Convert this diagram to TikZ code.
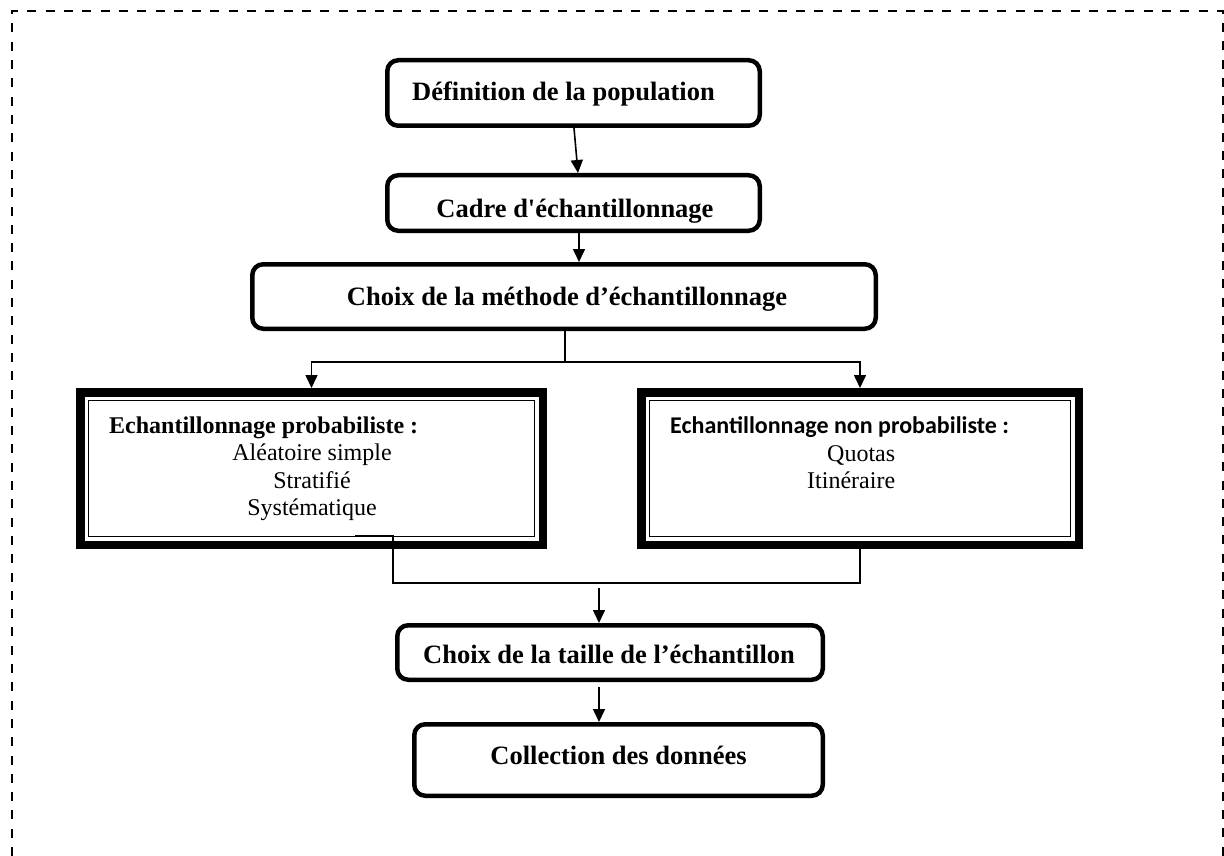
\documentclass[tikz,border=0pt]{standalone}
\usepackage{fontspec}
\setmainfont{Liberation Serif}
\newfontfamily\calibrifam{Carlito}
\usetikzlibrary{arrows.meta}
\begin{document}
\begin{tikzpicture}[x=1pt,y=-1pt,
  stagebox/.style={draw, line width=4.5pt, rounded corners=11pt, inner sep=0pt},
  methodbox/.style={draw, line width=8.5pt, inner sep=0pt},
  innerframe/.style={line width=1.3pt},
  conn/.style={line width=1.6pt},
  arr/.style={conn, -{Triangle[length=13pt,width=12pt]}},
  bigtxt/.style={inner sep=0pt, anchor=base, font=\fontsize{26.5}{30}\selectfont\bfseries},
  headtxt/.style={inner sep=0pt, anchor=base west, font=\fontsize{24}{28}\selectfont\bfseries},
  itemtxt/.style={inner sep=0pt, anchor=base, font=\fontsize{24}{28}\selectfont},
  pageframe/.style={line width=2pt, dash pattern=on 9pt off 9.3pt}
]
\useasboundingbox (0,0) rectangle (1224,856);

% dashed page frame, open at the bottom
\draw[pageframe] (12.3,856) -- (12.3,11) -- (1223.2,11) -- (1223.2,856);

% main stages
\node[stagebox, minimum width=372.5pt, minimum height=65.5pt] (pop) at (573.5,93) {};
\node[bigtxt] (popt) at (563.5,101) {Définition de la population};

\node[stagebox, minimum width=372.5pt, minimum height=55.5pt] (cadre) at (573.5,203) {};
\node[bigtxt] (cadret) at (575,218) {Cadre d\textquotesingle échantillonnage};

\node[stagebox, minimum width=623.5pt, minimum height=64.5pt] (methode) at (564,296.5) {};
\node[bigtxt] (methodet) at (567,305) {Choix de la méthode d’échantillonnage};

% the two sampling families (thick-thin frames)
\node[methodbox, minimum width=462.5pt, minimum height=152.5pt] (prob) at (311.5,468.5) {};
\draw[innerframe] ([shift={(12.7,12.5)}]prob.north west) rectangle ([shift={(-12.7,-12.7)}]prob.south east);
\node[headtxt] (probh) at (109,433) {Echantillonnage probabiliste :};
\node[itemtxt] (p1) at (312,460) {Aléatoire simple};
\node[itemtxt] (p2) at (312,488) {Stratifié};
\node[itemtxt] (p3) at (312,515) {Systématique};

\node[methodbox, minimum width=437.5pt, minimum height=152.5pt] (nonprob) at (860,468.5) {};
\draw[innerframe] ([shift={(12.7,12.5)}]nonprob.north west) rectangle ([shift={(-12.7,-12.7)}]nonprob.south east);
\node[headtxt, font=\fontsize{24}{28}\selectfont\calibrifam\bfseries] (nonprobh) at (670,433) {Echantillonnage non probabiliste :};
\node[itemtxt, anchor=base west] (n1) at (827,461) {Quotas};
\node[itemtxt, anchor=base west] (n2) at (807,488) {Itinéraire};

\node[stagebox, minimum width=425.5pt, minimum height=54.5pt] (taille) at (610,652.5) {};
\node[bigtxt] (taillet) at (609,663) {Choix de la taille de l’échantillon};

\node[stagebox, minimum width=408.5pt, minimum height=71.5pt] (collecte) at (618.5,760) {};
\node[bigtxt] (collectet) at (618.5,764) {Collection des données};

% connectors
\draw[arr] ([xshift=0.5pt]pop.south) -- ([xshift=4.5pt]cadre.north);
\draw[arr] ([xshift=5.5pt]cadre.south) -- ([xshift=5.5pt]cadre.south |- methode.north);

\coordinate (split) at (565,362);
\draw[conn] (methode.south -| split) -- (split);
\draw[arr] (split) -| (prob.north);
\draw[arr] (split) -| (nonprob.north);

\coordinate (stub) at (355,536);
\coordinate (bend) at (393,583);
\draw[conn] (stub) -- (stub -| bend) -- (bend) -| (nonprob.south);

\coordinate (tin) at (599,588);
\draw[arr] (tin) -- (tin |- taille.north);
\coordinate (tout) at (599,687);
\draw[arr] (tout) -- (tout |- collecte.north);
\end{tikzpicture}
\end{document}
